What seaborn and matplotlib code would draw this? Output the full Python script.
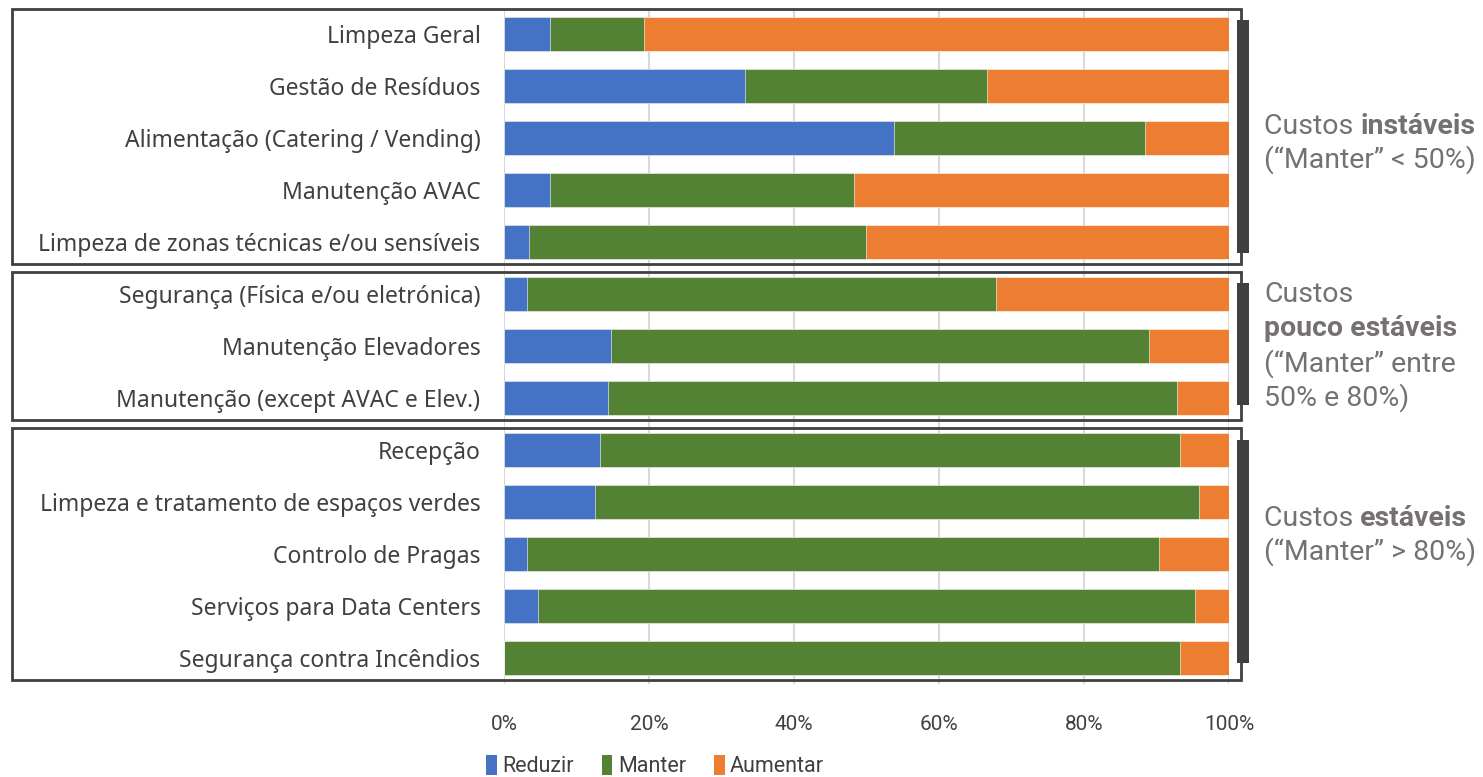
import numpy as np
import pandas as pd
import seaborn as sns
import matplotlib
matplotlib.use("Agg")
import matplotlib.pyplot as plt
from matplotlib.patches import Rectangle, Patch
from matplotlib import font_manager

# ---------------- data ----------------
categories = [
    "Limpeza Geral",
    "Gestão de Resíduos",
    "Alimentação (Catering / Vending)",
    "Manutenção AVAC",
    "Limpeza de zonas técnicas e/ou sensíveis",
    "Segurança (Física e/ou eletrónica)",
    "Manutenção Elevadores",
    "Manutenção (except AVAC e Elev.)",
    "Recepção",
    "Limpeza e tratamento de espaços verdes",
    "Controlo de Pragas",
    "Serviços para Data Centers",
    "Segurança contra Incêndios",
]
reduzir = [6.4, 33.3, 53.8, 6.4, 3.5, 3.2, 14.8, 14.3, 13.3, 12.5, 3.2, 4.7, 0.0]
manter = [12.9, 33.3, 34.6, 41.9, 46.4, 64.6, 74.1, 78.5, 80.0, 83.4, 87.1, 90.6, 93.3]
aumentar = [80.7, 33.4, 11.6, 51.7, 50.1, 32.2, 11.1, 7.2, 6.7, 4.1, 9.7, 4.7, 6.7]
series_names = ["Reduzir", "Manter", "Aumentar"]
tick_values = [0, 20, 40, 60, 80, 100]
tick_labels = ["0%", "20%", "40%", "60%", "80%", "100%"]

colors = {"Reduzir": "#4472C4", "Manter": "#548235", "Aumentar": "#ED7D31"}

df = pd.DataFrame({"cat": categories, "Reduzir": reduzir, "Manter": manter, "Aumentar": aumentar})
df["c1"] = df["Reduzir"]
df["c2"] = df["Reduzir"] + df["Manter"]
df["c3"] = df["c2"] + df["Aumentar"]

# ---------------- fonts ----------------
avail = {f.name for f in font_manager.fontManager.ttflist}
def pick(*names):
    for n in names:
        if n in avail:
            return n
    return "DejaVu Sans"
label_font = pick("Noto Sans", "Roboto", "DejaVu Sans")
tick_font = pick("Liberation Sans Narrow", "Roboto", "DejaVu Sans")
note_font = pick("Roboto", "Noto Sans", "DejaVu Sans")

sns.set_theme(style="white")
plt.rcParams["font.family"] = [label_font, "DejaVu Sans"]

W, H = 1483, 777
fig = plt.figure(figsize=(W / 100, H / 100), dpi=100)
ax = fig.add_axes([504 / W, 1 - 684 / H, (1229 - 504) / W, (684 - 8) / H])

bw = 0.65
sns.barplot(data=df, y="cat", x="c3", color=colors["Aumentar"], width=bw, orient="h", ax=ax,
            edgecolor="white", linewidth=0.4, saturation=1)
sns.barplot(data=df, y="cat", x="c2", color=colors["Manter"], width=bw, orient="h", ax=ax,
            edgecolor="white", linewidth=0.4, saturation=1)
sns.barplot(data=df, y="cat", x="c1", color=colors["Reduzir"], width=bw, orient="h", ax=ax,
            edgecolor="white", linewidth=0.4, saturation=1)

ax.set_xlim(0, 100)
ax.set_ylim(len(categories) - 0.5, -0.5)
ax.set_xticks(tick_values)
ax.set_xticklabels(tick_labels, fontsize=15, color="#404040", family=tick_font)
ax.tick_params(axis="x", length=0, pad=22)
ax.tick_params(axis="y", length=0, pad=17)
for lab in ax.get_yticklabels():
    lab.set_fontsize(16.5)
    lab.set_color("#404040")
ax.set_xlabel("")
ax.set_ylabel("")
ax.xaxis.grid(True, color="#D9D9D9", linewidth=1.5)
ax.set_axisbelow(True)
for s in ax.spines.values():
    s.set_visible(False)

# ---------------- group boxes & brackets ----------------
def px_rect(x0, y0, x1, y1, **kw):
    r = Rectangle((x0 / W, 1 - y1 / H), (x1 - x0) / W, (y1 - y0) / H,
                  transform=fig.transFigure, **kw)
    fig.add_artist(r)

boxes = [(12, 9, 1241, 264), (12, 272, 1241, 420), (12, 428, 1241, 680)]
for b in boxes:
    px_rect(*b, fill=False, edgecolor="#404040", linewidth=2.0)
brackets = [(1237, 20, 1249, 253), (1237, 283, 1249, 405), (1237, 440, 1249, 663)]
for b in brackets:
    px_rect(*b, facecolor="#404040", edgecolor="none")

# ---------------- annotations ----------------
note_color = "#767171"
note_size = 20.5
fig.canvas.draw()
renderer = fig.canvas.get_renderer()

def rich_line(x_px, y_px, parts):
    x = x_px / W
    for txt, weight in parts:
        t = fig.text(x, 1 - y_px / H, txt, fontsize=note_size, color=note_color,
                     fontweight=weight, family=note_font, va="center", ha="left")
        bb = t.get_window_extent(renderer=renderer)
        x = bb.x1 / (W)

notes = [
    (127, [("Custos ", "normal"), ("instáveis", "bold")]),
    (160, [("(“Manter” < 50%)", "normal")]),
    (294, [("Custos", "normal")]),
    (329, [("pouco estáveis", "bold")]),
    (364, [("(“Manter” entre", "normal")]),
    (398, [("50% e 80%)", "normal")]),
    (518, [("Custos ", "normal"), ("estáveis", "bold")]),
    (552, [("(“Manter” > 80%)", "normal")]),
]
for y, parts in notes:
    rich_line(1264, y, parts)

# ---------------- legend ----------------
handles = [Patch(facecolor=colors[n], edgecolor="none", label=n) for n in series_names]
fig.legend(handles=handles, loc="center", bbox_to_anchor=(655 / W, 1 - 766 / H), ncol=3,
           frameon=False, prop={"family": tick_font, "size": 15.5}, labelcolor="#404040",
           handlelength=0.5, handleheight=1.1, handletextpad=0.25, columnspacing=1.3)

fig.savefig("out.png", dpi=100)
